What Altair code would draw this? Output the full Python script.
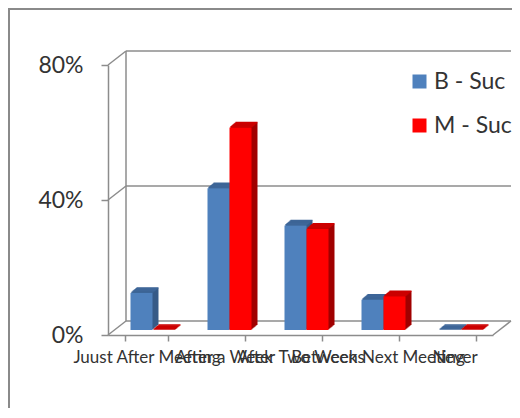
import altair as alt
import pandas as pd

categories = ["Juust After Meeting", "After a Week", "After Two Weeks", "Between Next Meeting", "Never"]
series = ["B - Suc", "M - Suc"]
b_values = [11, 42, 31, 9, 0]
m_values = [0, 60, 30, 10, 0]
y_ticks = [0, 40, 80]

front_colors = ["#4f81bd", "#ff0000"]
side_colors = ["#375b87", "#a00000"]
top_colors = ["#3e6698", "#cc0000"]

W, H = 385, 270
Y_MAX = 80
DX, DY = 18, 14      # back wall depth in px
BX, BY = 6, 5        # bar depth in px
BAR_W = 22
GRID = "#8c8c8c"
TEXT = "#333333"
FONT = "Lato"

rows = []
for i, c in enumerate(categories):
    for s, vals, fc, sc, tc in zip(series, [b_values, m_values], front_colors, side_colors, top_colors):
        rows.append(dict(cat=c, series=s, value=vals[i], front=fc, side=sc, top=tc))
df = pd.DataFrame(rows)
grid_df = pd.DataFrame({"v": y_ticks})

x_scale = alt.Scale(domain=categories, paddingInner=0.4286, paddingOuter=0.2143)
y_scale = alt.Scale(domain=[0, Y_MAX], nice=False, zero=True)

x_axis = alt.Axis(labelAngle=0, labelOverlap=False, labelLimit=400, labelFontSize=17,
                  labelFont=FONT, labelColor=TEXT, domainColor=GRID, domainWidth=1.5,
                  tickColor=GRID, tickWidth=1.5, tickSize=6, tickBand="extent",
                  labelPadding=8, grid=False, title=None)
y_axis = alt.Axis(values=y_ticks, labelExpr="datum.value + '%'", labelFontSize=23,
                  labelFont=FONT, labelColor=TEXT, domainColor=GRID, domainWidth=1.5,
                  tickColor=GRID, tickWidth=1.5, tickSize=7, labelPadding=18,
                  grid=False, title=None)

X = alt.X("cat:N", scale=x_scale, sort=categories, axis=x_axis, title=None)
Yv = alt.Y("value:Q", scale=y_scale, axis=y_axis, title=None)
legend = alt.Legend(title=None, orient="none", legendX=300, legendY=5,
                    symbolType="square", symbolSize=196, symbolStrokeWidth=0,
                    labelFontSize=23, labelFont=FONT, labelColor=TEXT,
                    labelOffset=3, rowPadding=20, padding=0)

layers = []

# border
layers.append(
    alt.Chart(grid_df.head(1)).mark_rect(fill=None, stroke="#8a8a8a", strokeWidth=2).encode(
        x=alt.value(-99), x2=alt.value(W + 300), y=alt.value(-56), y2=alt.value(H + 300)
    )
)

# back wall gridlines (incl. floor back edge)
layers.append(
    alt.Chart(grid_df).mark_rule(color=GRID, strokeWidth=1.5, yOffset=-DY).encode(
        x=alt.value(DX), x2=alt.value(W + DX),
        y=alt.Y("v:Q", scale=y_scale, axis=y_axis, title=None),
    )
)
# diagonals from front axis to back wall
layers.append(
    alt.Chart(grid_df).mark_rule(color=GRID, strokeWidth=1.5, y2Offset=-DY).encode(
        x=alt.value(0), x2=alt.value(DX),
        y=alt.Y("v:Q", scale=y_scale, axis=y_axis, title=None), y2=alt.Y2("v:Q"),
    )
)
# right floor diagonal
layers.append(
    alt.Chart(grid_df.head(1)).mark_rule(color=GRID, strokeWidth=1.5, y2Offset=-DY).encode(
        x=alt.value(W), x2=alt.value(W + DX),
        y=alt.Y("v:Q", scale=y_scale, axis=y_axis, title=None), y2=alt.Y2("v:Q"),
    )
)
# back wall left edge
layers.append(
    alt.Chart(pd.DataFrame({"a": [0], "b": [Y_MAX]})).mark_rule(
        color=GRID, strokeWidth=1.5, yOffset=-DY, y2Offset=-DY
    ).encode(
        x=alt.value(DX),
        y=alt.Y("a:Q", scale=y_scale, axis=y_axis, title=None), y2=alt.Y2("b:Q"),
    )
)

N = 6
for si, s in enumerate(series):
    shift = (si - 0.5) * BAR_W
    base = alt.Chart(df).transform_filter(alt.datum.series == s)
    # side extrusions
    for k in range(N, 0, -1):
        f = k / N
        layers.append(
            base.mark_bar(width=BAR_W, xOffset=shift + BX + f * BX, yOffset=-(BY + f * BY),
                          strokeWidth=0).encode(
                x=X, y=Yv, color=alt.Color("side:N", scale=None),
            )
        )
    # top faces
    for k in range(N, 0, -1):
        f = k / N
        layers.append(
            base.mark_bar(width=BAR_W, xOffset=shift + BX + f * BX, yOffset=-(BY + f * BY),
                          y2Offset=-(BY + f * BY), strokeWidth=1.3).encode(
                x=X, y=Yv, y2=alt.Y2("value:Q"),
                color=alt.Color("top:N", scale=None),
                stroke=alt.Stroke("top:N", scale=None),
            )
        )
    # front face
    layers.append(
        base.mark_bar(width=BAR_W, xOffset=shift + BX, yOffset=-BY, strokeWidth=0).encode(
            x=X, y=Yv,
            color=alt.Color("series:N", scale=alt.Scale(domain=series, range=front_colors),
                            sort=series, legend=legend),
        )
    )

chart = alt.layer(*layers).properties(
    width=W, height=H,
    padding={"left": 100, "top": 57, "right": 19, "bottom": 73},
    autosize=alt.AutoSizeParams(type="none"),
    background="white",
).configure_view(strokeWidth=0, stroke="transparent")

chart.save("out.html", embed_options={"renderer": "svg", "actions": False})
